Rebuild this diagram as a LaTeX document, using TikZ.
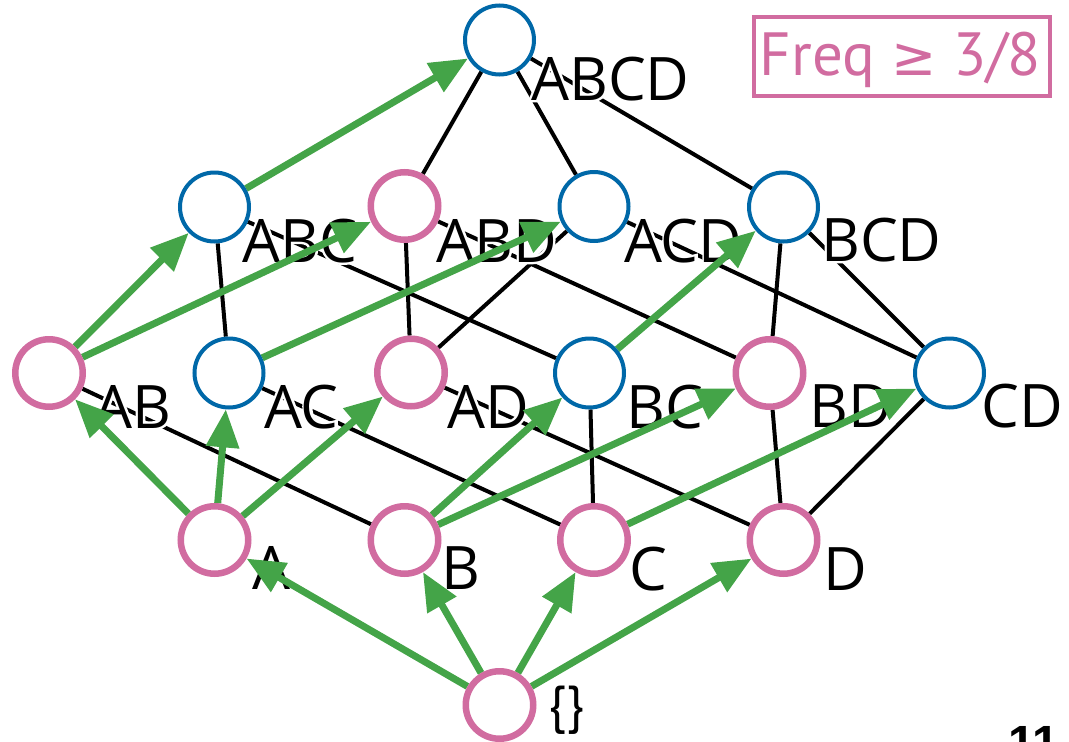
\documentclass[tikz,border=0pt]{standalone}
\usepackage{fontspec}
\setmainfont{Open Sans}
\newfontfamily\halofont{Open Sans}[RawFeature={embolden=8}]
\newfontfamily\freqfont{PT Sans}
\newfontfamily\symfont{DejaVu Sans}
\newfontfamily\pgnum{Liberation Sans}
\usetikzlibrary{arrows.meta}
\pgfdeclarelayer{edges}
\pgfdeclarelayer{labels}
\pgfdeclarelayer{arrows}
\pgfsetlayers{edges,labels,arrows,main}
\definecolor{fpink}{RGB}{209,108,160}
\definecolor{fblue}{RGB}{0,104,168}
\definecolor{fgreen}{RGB}{68,164,72}
\tikzset{
  freq/.style={circle,draw=fpink,line width=6.5pt,fill=white,minimum size=67.5pt,inner sep=0pt},
  infreq/.style={circle,draw=fblue,line width=4pt,fill=white,minimum size=69pt,inner sep=0pt},
  hasse/.style={black,line width=4pt},
  growarrow/.style={fgreen,line width=7pt,-{Triangle[length=38pt,width=32pt]}},
  lbl/.style={anchor=base west,inner sep=0pt,font=\fontsize{60}{60}\selectfont},
}
\newcommand\halolabel[3]{%
  \node[lbl,text=white] (h#1) at #2 {\halofont #3};
  \node[lbl] (l#1) at #2 {#3};
}
\begin{document}
\begin{tikzpicture}[x=1pt,y=-1pt]
\useasboundingbox (0,0) rectangle (1069,742);
% lattice nodes
\node[infreq] (ABCD) at (499.5,40) {};
\node[infreq] (ABC) at (214.5,207) {};
\node[freq]   (ABD) at (404.5,206) {};
\node[infreq] (ACD) at (594,206.5) {};
\node[infreq] (BCD) at (783.5,207) {};
\node[freq]   (AB) at (49,373) {};
\node[infreq] (AC) at (229,373) {};
\node[freq]   (AD) at (411,372.5) {};
\node[infreq] (BC) at (589.5,373) {};
\node[freq]   (BD) at (769.5,373) {};
\node[infreq] (CD) at (949.5,373) {};
\node[freq]   (A) at (214.5,540) {};
\node[freq]   (B) at (404.5,540) {};
\node[freq]   (C) at (594,540) {};
\node[freq]   (D) at (783.5,540) {};
\node[freq]   (E) at (499.5,705) {};
% black Hasse edges
\begin{pgfonlayer}{edges}
\draw[hasse] (ABCD) -- (ABD);
\draw[hasse] (ABCD) -- (ACD);
\draw[hasse] (ABCD) -- (BCD);
\draw[hasse] (ABC) -- (AC);
\draw[hasse] (ABC) -- (BC);
\draw[hasse] (ABD) -- (AD);
\draw[hasse] (ABD) -- (BD);
\draw[hasse] (ACD) -- (AD);
\draw[hasse] (ACD) -- (CD);
\draw[hasse] (BCD) -- (BD);
\draw[hasse] (BCD) -- (CD);
\draw[hasse] (AB) -- (B);
\draw[hasse] (AC) -- (C);
\draw[hasse] (AD) -- (D);
\draw[hasse] (BC) -- (C);
\draw[hasse] (BD) -- (D);
\draw[hasse] (CD) -- (D);
\end{pgfonlayer}
% labels
\begin{pgfonlayer}{labels}
\halolabel{ABCD}{(531,100)}{ABCD}
\halolabel{ABC}{(242,262)}{ABC}
\halolabel{ABD}{(436,262)}{ABD}
\halolabel{ACD}{(624,262)}{ACD}
\halolabel{BCD}{(821,261)}{BCD}
\halolabel{AB}{(94,428)}{AB}
\halolabel{AC}{(264,428)}{AC}
\halolabel{AD}{(447,428)}{AD}
\halolabel{BC}{(626,428)}{BC}
\halolabel{BD}{(809,427)}{BD}
\halolabel{CD}{(981,427)}{CD}
\halolabel{A}{(252,589)}{A}
\halolabel{B}{(441,589)}{B}
\halolabel{C}{(629,590)}{C}
\halolabel{D}{(823,590)}{D}
\node[lbl,font=\freqfont\fontsize{52}{52}\selectfont] (lE) at (548,722) {\{\}};
\end{pgfonlayer}
% green growth arrows
\begin{pgfonlayer}{arrows}
\draw[growarrow] (E) -- (A);
\draw[growarrow] (E) -- (B);
\draw[growarrow] (E) -- (C);
\draw[growarrow] (E) -- (D);
\draw[growarrow] (A) -- (AB);
\draw[growarrow] (A) -- (AC);
\draw[growarrow] (A) -- (AD);
\draw[growarrow] (B) -- (BC);
\draw[growarrow] (B) -- (BD);
\draw[growarrow] (C) -- (CD);
\draw[growarrow] (AB) -- (ABC);
\draw[growarrow] (AB) -- (ABD);
\draw[growarrow] (AC) -- (ACD);
\draw[growarrow] (BC) -- (BCD);
\draw[growarrow] (ABC) -- (ABCD);
\end{pgfonlayer}
% threshold box
\node[draw=fpink,line width=4pt,minimum width=296pt,minimum height=79pt,inner sep=0pt] (freqbox) at (902,56.5) {};
\node[anchor=base,inner sep=0pt,text=fpink,font=\freqfont\fontsize{61}{61}\selectfont] (freqtext) at (900.5,75) {Freq {\symfont\fontsize{54}{54}\selectfont ≥} 3/8};
% page number (cut off at the bottom)
\begin{scope}
\clip (0,0) rectangle (1069,742);
\node[anchor=base west,inner sep=0pt,font=\pgnum\bfseries\fontsize{48}{48}\selectfont] (pagenum) at (1008,759) {11};
\end{scope}
\end{tikzpicture}
\end{document}
